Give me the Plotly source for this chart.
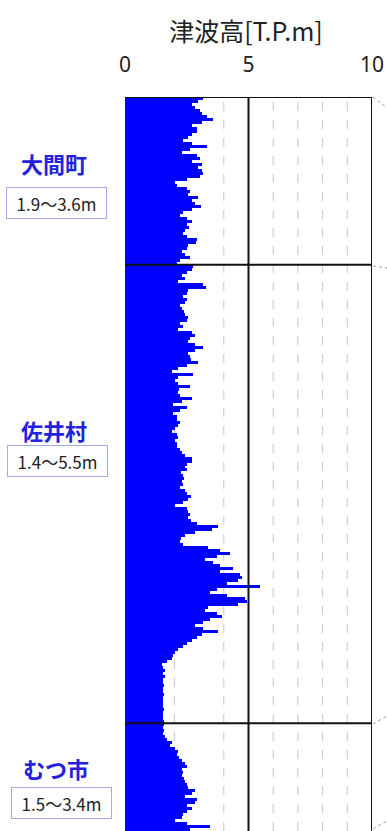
import plotly.graph_objects as go

# ---- data (tsunami height T.P.m along the coast, top -> bottom) ----
municipalities = ["大間町", "佐井村", "むつ市"]
ranges = ["1.9〜3.6m", "1.4〜5.5m", "1.5〜3.4m"]

oma_heights = [3.17, 2.97, 2.70, 2.83, 3.04, 3.10, 3.30, 3.58, 3.10, 2.70, 2.90,
               2.93, 2.70, 2.56, 2.36, 2.70, 3.33, 2.63, 2.29, 2.90, 3.04,
               2.70, 3.10, 2.97, 3.10, 3.17, 3.04, 2.50, 2.02, 2.12, 2.50,
               2.63, 2.56, 2.97, 2.70, 2.83, 3.06, 2.70, 2.36, 2.23, 2.50,
               2.70, 2.50, 2.60, 2.43, 2.36, 2.50, 2.93, 2.87, 2.56, 2.50,
               2.29, 2.43, 2.63, 2.23, 2.09]
sai_heights = [2.77, 2.70, 2.50, 2.29, 2.43,
               2.16, 3.17, 3.28, 2.56, 2.50, 2.36, 2.50, 2.43, 2.23, 2.29,
               2.39, 2.43, 2.56, 2.50, 2.23, 2.34, 2.16, 2.70, 2.83, 2.63,
               2.56, 2.83, 3.14, 2.83, 2.56, 2.63, 2.66, 2.97, 2.50, 2.16,
               1.89, 2.77, 2.16, 2.02, 2.16, 2.63, 2.20, 2.16, 2.23, 2.70,
               2.29, 1.96, 2.50, 2.23, 1.96, 2.09, 2.09, 2.23, 2.16, 2.02,
               1.89, 2.09, 2.16, 2.02, 2.12, 2.09, 2.23, 2.29, 2.43, 2.70,
               2.70, 2.50, 2.43, 2.50, 2.25, 2.36, 2.39, 2.29, 2.33, 2.23,
               2.43, 2.50, 2.66, 2.56, 2.36, 2.02, 2.50, 2.56, 2.63, 2.56,
               2.66, 2.90, 3.78, 3.51, 2.83, 2.43, 2.25, 2.23, 2.36, 3.37,
               3.85, 4.25, 3.71, 3.24, 3.58, 3.85, 4.39, 3.85, 4.66, 4.72,
               4.59, 4.12, 5.47, 3.71, 3.44, 4.12, 4.86, 4.93, 4.59, 3.37,
               3.24, 3.71, 3.91, 3.44, 3.17, 2.83, 3.17, 3.78, 3.10, 2.90,
               2.70, 2.50, 2.36, 2.16, 2.02, 1.93, 1.89, 1.69, 1.48, 1.52,
               1.62, 1.55, 1.62, 1.52, 1.55, 1.58, 1.52, 1.55, 1.58, 1.55,
               1.55, 1.52, 1.55, 1.58, 1.55, 1.52, 1.55, 1.58]
mutsu_heights = [1.58, 1.55,
                 1.58, 1.52, 1.62, 1.69, 1.89, 1.82, 2.02, 2.16, 2.09, 2.20,
                 2.29, 2.43, 2.50, 2.29, 2.36, 2.29, 2.39, 2.43, 2.50, 2.56,
                 2.83, 2.70, 2.43, 2.90, 2.83, 2.50, 2.70, 2.50, 2.36, 2.29,
                 2.02, 2.50, 3.44, 2.63]

x_ticks = [0, 5, 10]
dashed_grid = [2, 4, 6, 7, 8, 9]
solid_grid = [5, 10]

# ---- figure geometry ----
W, H = 387, 831
L, R, T, B = 125, 15, 97, 0
pw, ph = W - L - R, H - T - B


def px_x(px):
    return (px - L) / pw


def px_y(py):
    return (H - B - py) / ph


segments = [oma_heights, sai_heights, mutsu_heights]
fig = go.Figure()
start = 0
boundaries = []
for seg in segments:
    ys = list(range(start, start + len(seg)))
    fig.add_trace(go.Bar(x=seg, y=ys, orientation="h", width=1,
                         marker=dict(color="#0000ff", line=dict(width=0)),
                         showlegend=False, hoverinfo="x"))
    start += len(seg)
    boundaries.append(start - 0.5)
n_total = start

shapes = []
for g in dashed_grid:
    shapes.append(dict(type="line", xref="x", yref="paper", x0=g, x1=g, y0=0, y1=1,
                       line=dict(color="#c8c8c8", width=1, dash="dash"), layer="below"))
for g in solid_grid:
    shapes.append(dict(type="line", xref="x", yref="paper", x0=g, x1=g, y0=0, y1=1,
                       line=dict(color="#111111", width=2), layer="above"))
# top border and municipal boundaries
for yb in [-0.5] + boundaries[:-1]:
    shapes.append(dict(type="line", xref="x", yref="y", x0=0, x1=10, y0=yb, y1=yb,
                       line=dict(color="#111111", width=2), layer="above"))

# leader lines towards the (cropped) map on the right
leaders = [(97, 108), (266, 268), (724, 716), (829, 821)]
for y0p, y1p in leaders:
    shapes.append(dict(type="line", xref="paper", yref="paper",
                       x0=px_x(373), x1=px_x(387), y0=px_y(y0p), y1=px_y(y1p),
                       line=dict(color="#9a9a9a", width=1, dash="dot"), layer="above"))

annotations = []
name_pos = [(54, 163), (54, 430), (56, 768)]
box_pos = [(56.5, 203), (57, 461), (62, 803)]
for name, rng, (nx, ny), (bx, by) in zip(municipalities, ranges, name_pos, box_pos):
    annotations.append(dict(text="<b>%s</b>" % name, xref="paper", yref="paper",
                            x=px_x(nx), y=px_y(ny), xanchor="center", yanchor="middle",
                            showarrow=False,
                            font=dict(family="Noto Sans CJK JP", size=22, color="#2222dd")))
    annotations.append(dict(text=rng, xref="paper", yref="paper",
                            x=px_x(bx), y=px_y(by), xanchor="center", yanchor="middle",
                            showarrow=False, width=97, height=28, borderpad=1,
                            bordercolor="#a8a8e8", borderwidth=1, bgcolor="white",
                            font=dict(family="Noto Sans CJK JP", size=17, color="#222222")))

fig.update_layout(
    width=W, height=H,
    margin=dict(l=L, r=R, t=T, b=B, pad=0),
    paper_bgcolor="white", plot_bgcolor="white",
    bargap=0,
    title=dict(text="津波高[T.P.m]", xref="container", yref="container",
               x=246 / W, y=1 - 32 / H, xanchor="center", yanchor="middle",
               font=dict(family="Noto Sans CJK JP", size=25, color="#222222")),
    xaxis=dict(range=[0, 10], side="top", tickvals=x_ticks,
               ticktext=[str(t) for t in x_ticks],
               showgrid=False, zeroline=False, showline=False, ticks="",
               ticklabelstandoff=20,
               tickfont=dict(family="Noto Sans", size=21, color="#222222")),
    yaxis=dict(range=[n_total - 0.5, -0.5], showticklabels=False, showgrid=False,
               zeroline=False, showline=False, ticks=""),
    shapes=shapes,
    annotations=annotations,
)

fig.write_html("out.html")
